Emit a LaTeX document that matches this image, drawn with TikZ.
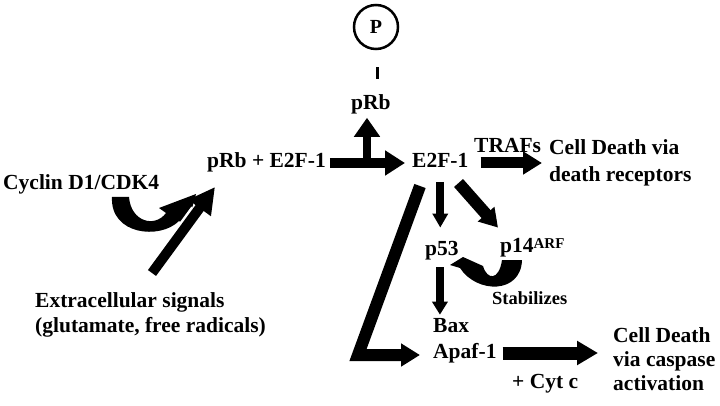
\documentclass[tikz,border=0pt]{standalone}
\usepackage{fontspec}
\setmainfont{Liberation Serif}
\usetikzlibrary{arrows.meta,calc}
\begin{document}
\begin{tikzpicture}[x=1pt,y=-1pt,
  lbl/.style={inner sep=0pt, anchor=base west, align=left, font=\bfseries\fontsize{21.5}{25}\selectfont},
  fat/.style n args={3}{line width=#1, -{Triangle[width=#2,length=#3]}},
  crescent/.style={fill=black}]
\useasboundingbox (0,0) rectangle (720,406);

% nodes (multi-line nodes are placed by the baseline of their last line)
\node[circle, draw, line width=2.5pt, minimum size=44pt, inner sep=0pt,
      font=\bfseries\fontsize{20}{20}\selectfont] (P) at (376,27) {P};
\node[lbl] (prb) at (351,110) {pRb};
\node[lbl] (cx) at (207,168) {pRb + E2F-1};
\node[lbl] (e2f) at (412,168) {E2F-1};
\node[lbl] (trafs) at (474,153) {TRAFs};
\node[lbl, font=\bfseries\fontsize{21.5}{27}\selectfont] (cdr) at (549,182) {Cell Death via\\death receptors};
\node[lbl] (cyc) at (3,190) {Cyclin D1/CDK4};
\node[lbl] (ext) at (35,332) {Extracellular signals\\(glutamate, free radicals)};
\node[lbl] (p53) at (425,255) {p53};
\node[lbl] (p14) at (500,252) {p14\raisebox{4pt}{\fontsize{15}{15}\selectfont ARF}};
\node[lbl, font=\bfseries\fontsize{18.5}{20}\selectfont] (stab) at (492,304) {Stabilizes};
\node[lbl] (bax) at (433,332) {Bax};
\node[lbl] (apaf) at (433,358) {Apaf-1};
\node[lbl, font=\bfseries\fontsize{21.5}{24}\selectfont] (cdc) at (613,390) {Cell Death\\via caspase\\activation};
\node[lbl] (cyt) at (512,388) {+ Cyt c};

% P -- pRb
\draw[line width=3pt] ($(P.south)+(1,17)$) -- ($(P.south |- prb.north)+(1,-16)$);

% pRb + E2F-1 -> E2F-1
\draw[fat={10pt}{24pt}{20pt}] ($(cx.base east)+(4,-5)$) -- ($(e2f.base west)+(-7,-5)$);
\coordinate (j) at ($($(cx.base east)!0.5!(e2f.base west)$)+(-2,-5)$);
\draw[fat={8pt}{25pt}{19pt}] (j) -- ($(j |- prb.south)+(0,3)$);

% E2F-1 -> death receptors
\draw[fat={11pt}{22pt}{19pt}] ($(e2f.base east)+(12,-5)$) -- ($(cdr.base west)+(-7,-19)$);

% E2F-1 -> p53
\draw[fat={8pt}{15pt}{14pt}] ($(e2f.base)+(0,14)$) -- ($(e2f.base |- p53.north)+(0,-13)$);
% E2F-1 -> p14ARF
\draw[fat={12pt}{21pt}{18pt}] ($(e2f.base east)+(-10,15)$) -- ($(p14.north west)+(-2,-10)$);
% E2F-1 -> Apaf-1
\coordinate (corner) at ($(apaf.base west)+(-75,-3)$);
\draw[fat={12pt}{22pt}{19pt}, line join=miter] ($(e2f.base west)+(8,18)$) -- (corner) -- ($(apaf.base west)+(-13,-3)$);
% p53 -> Bax
\draw[fat={8pt}{15pt}{13pt}] ($(p53.base)+(-2,12)$) -- ($(p53.base |- bax.north)+(-2,-3)$);
% Apaf-1 -> Cell Death
\draw[fat={13pt}{23pt}{21pt}] ($(apaf.base east)+(6,-5)$) -- ($(cdc.base west)+(-15,-37)$);

% Stabilizes: p14ARF -> p53
\fill[crescent] (450,265) -- (463,257) -- (483,266)
  .. controls (487,280) and (499,281) .. (502,260) -- (522,260)
  .. controls (521,294) and (477,294) .. (460,268) -- cycle;

% Cyclin D1/CDK4 curved arrow
\fill[crescent] (112,197) -- (129,197)
  .. controls (131,222) and (155,228) .. (166,213) -- (159,208) -- (196,194)
  -- (187,226) -- (179,221)
  .. controls (160,240) and (110,235) .. (112,197) -- cycle;

% Extracellular signals -> pRb + E2F-1
\coordinate (tail) at (152,273);
\coordinate (tip) at ($(cx.base west)+(8,19)$);
\draw[white, line width=15pt] ($(tail)!0.45!(tip)$) -- ($(tail)!0.72!(tip)$);
\draw[fat={10pt}{26pt}{26pt}] (tail) -- (tip);
\end{tikzpicture}
\end{document}
